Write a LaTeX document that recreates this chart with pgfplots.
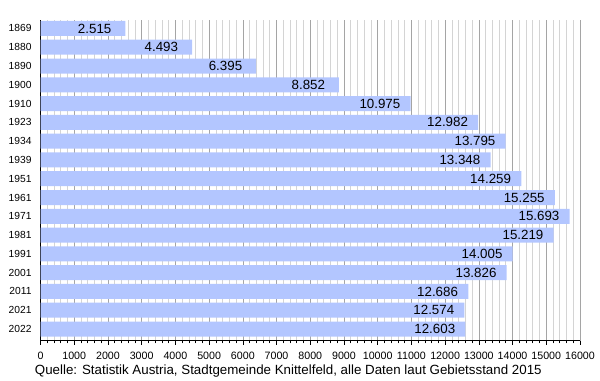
\documentclass[border=0pt]{standalone}
\usepackage{pgfplots}
\pgfplotsset{compat=1.18}
\usepackage{fontspec}
\setmainfont{Liberation Sans}
\definecolor{barblue}{RGB}{179,198,255}
\definecolor{majgrid}{RGB}{165,165,165}
\definecolor{mingrid}{RGB}{212,212,212}
\pgfplotsset{layers/mylayers/.define layer set={axis background,axis grid,pre main,main,axis ticks,axis lines,axis tick labels,axis descriptions,axis foreground}{}}
\begin{document}
\begin{tikzpicture}
\begin{axis}[
  set layers=mylayers,
  at={(30.4pt,29.5pt)}, anchor=south west,
  scale only axis, width=404.6pt, height=240.5pt,
  xbar, bar width=11.25pt, bar shift=0pt,
  xmin=0, xmax=16000, ymin=-0.45, ymax=16.62,
  y dir=reverse,
  axis x line*=bottom, axis y line*=left,
  x axis line style={-}, y axis line style={-},
  xtick distance=1000, minor x tick num=4,
  xmajorgrids, xminorgrids,
  major grid style={majgrid, line width=0.5pt},
  minor grid style={mingrid, line width=0.5pt},
  tick align=outside,
  major tick length=3.2pt, minor tick length=2pt,
  every tick/.style={black, line width=0.5pt},
  scaled x ticks=false,
  /pgf/number format/1000 sep={},
  /pgf/number format/assume math mode=true,
  xticklabel style={font=\fontsize{8}{9}\selectfont, yshift=-1.5pt},
  ytick={0,...,16},
  yticklabels={1869,1880,1890,1900,1910,1923,1934,1939,1951,1961,1971,1981,1991,2001,2011,2021,2022},
  ytick style={draw=none},
  yticklabel style={font=\fontsize{7.7}{8}\selectfont},
  point meta=explicit symbolic,
  nodes near coords,
  every node near coord/.style={anchor=center, xshift=-23pt, font=\fontsize{10}{12}\selectfont, text=black},
]
\addplot[fill=barblue, draw=none] table[x=v, y=i, meta=lab] {
i v lab
0 2515 2.515
1 4493 4.493
2 6395 6.395
3 8852 8.852
4 10975 10.975
5 12982 12.982
6 13795 13.795
7 13348 13.348
8 14259 14.259
9 15255 15.255
10 15693 15.693
11 15219 15.219
12 14005 14.005
13 13826 13.826
14 12686 12.686
15 12574 12.574
16 12603 12.603
};
\end{axis}
\node[anchor=base west, inner sep=0pt, font=\fontsize{10}{12}\selectfont] at (26pt,3.8pt) {Quelle: Statistik Austria, Stadtgemeinde Knittelfeld, alle Daten laut Gebietsstand 2015};
\pgfresetboundingbox
\useasboundingbox (0,0) rectangle (450pt,285pt);
\end{tikzpicture}
\end{document}
